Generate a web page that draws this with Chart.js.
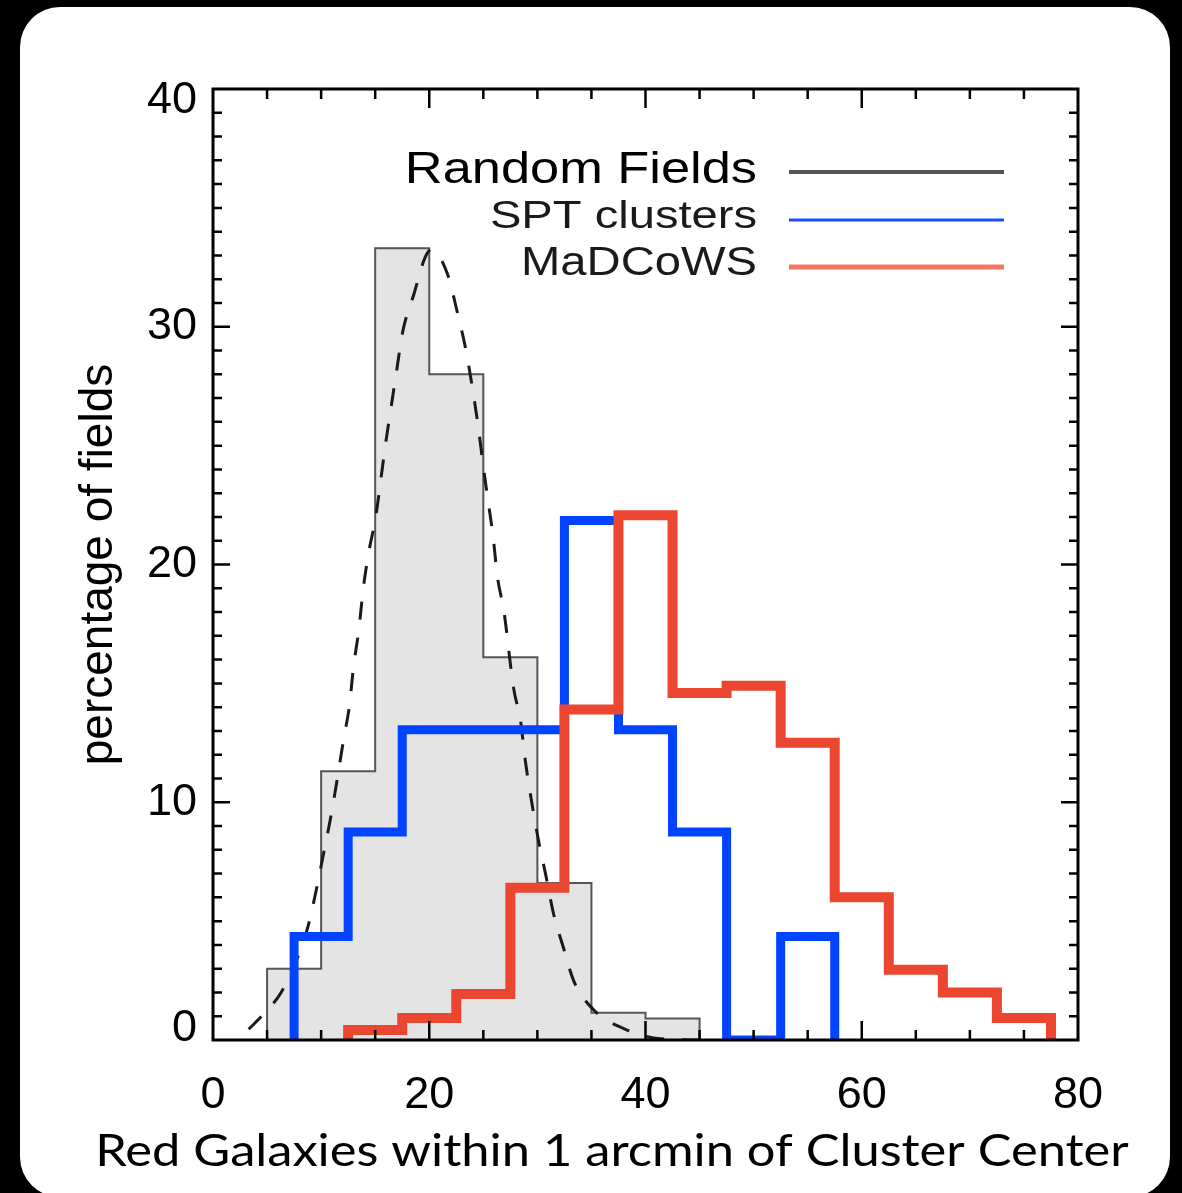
<!DOCTYPE html>
<html lang="en">
<head>
<meta charset="UTF-8">
<title>Red galaxies within 1 arcmin</title>
<script src="https://cdn.jsdelivr.net/npm/chart.js@4.4.1/dist/chart.umd.min.js"></script>
<style>
  html, body { margin: 0; padding: 0; background: #000; }
  body { width: 1182px; height: 1193px; position: relative; overflow: hidden; }
  .panel { position: absolute; left: 20px; top: 7px; width: 1150px; height: 1190px; background: #fff; border-radius: 40px; }
  #histChart { position: absolute; left: 0; top: 0; }
</style>
</head>
<body>
<div class="panel"></div>
<canvas id="histChart" width="1182" height="1193"></canvas>
<script>
// histogram bins are 5 galaxies wide; each list holds the left edge of a bin
const binWidth = 5;

const randomBinStarts = [5, 10, 15, 20, 25, 30, 35, 40];
const randomValues    = [3.0, 11.3, 33.3, 28.0, 16.1, 6.6, 1.15, 0.9];

const sptBinStarts = [7.5, 12.5, 17.5, 22.5, 27.5, 32.5, 37.5, 42.5, 47.5, 52.5];
const sptValues    = [4.35, 8.75, 13.05, 13.05, 13.05, 21.85, 13.05, 8.75, 0, 4.35];

const madcowsBinStarts = [12.5, 17.5, 22.5, 27.5, 32.5, 37.5, 42.5, 47.5, 52.5, 57.5, 62.5, 67.5, 72.5];
const madcowsValues    = [0.42, 0.93, 1.94, 6.4, 13.9, 22.07, 14.6, 14.9, 12.5, 6.0, 2.95, 2.0, 0.93];

// dashed fit through the random-field counts
const fitX = [3.3, 4.7, 6.3, 7.85, 8.8, 9.5, 10.25, 10.9, 11.5, 12.1, 12.6, 13.0, 13.5, 13.9,
              14.4, 15.05, 15.5, 16.0, 16.5, 17.0, 17.55, 18.6, 19.6, 20.2, 21.7, 22.6, 23.4,
              24.0, 24.5, 24.95, 25.4, 25.9, 26.3, 26.9, 27.8, 28.45, 28.9, 29.55, 30.1, 30.75,
              31.5, 32.4, 33.35, 35.2, 38.3, 41.4, 45.0];
const fitY = [0.45, 1.1, 2.0, 3.5, 4.8, 6.2, 7.9, 9.4, 11.0, 12.7, 14.0, 15.7, 17.3, 19.0,
              20.5, 22.0, 23.5, 25.2, 26.7, 28.2, 29.8, 31.4, 32.9, 33.25, 32.2, 30.6, 29.0,
              27.4, 25.9, 24.3, 22.8, 21.2, 19.5, 18.05, 14.8, 13.4, 11.7, 9.8, 8.4, 7.0,
              5.3, 3.9, 2.5, 1.27, 0.42, 0.05, 0.0];

const xTicks = [0, 20, 40, 60, 80];
const yTicks = [0, 10, 20, 30, 40];

const seriesNames = ['Random Fields', 'SPT clusters', 'MaDCoWS'];
const xTitle = 'Red Galaxies within 1 arcmin of Cluster Center';
const yTitle = 'percentage of fields';

// outline of a histogram as step points (stepped: 'before')
function histPoints(starts, values) {
  const pts = [{ x: starts[0], y: 0 }];
  starts.forEach((s, i) => pts.push({ x: s, y: values[i] }));
  pts.push({ x: starts[starts.length - 1] + binWidth, y: 0 });
  return pts;
}

function wideText(ctx, text, anchorX, baseline, font, stretch, align) {
  ctx.save();
  ctx.font = font;
  ctx.textAlign = align || 'right';
  ctx.textBaseline = 'alphabetic';
  ctx.translate(anchorX, baseline);
  ctx.scale(stretch, 1);
  ctx.fillText(text, 0, 0);
  ctx.restore();
}

// box frame with inward ticks, y labels, x title and legend
const decorations = {
  id: 'decorations',
  afterDatasetsDraw(chart) {
    const { ctx, chartArea: a, scales: { x, y } } = chart;
    ctx.save();
    ctx.strokeStyle = '#000';
    ctx.lineWidth = 3;
    ctx.strokeRect(a.left, a.top, a.right - a.left, a.bottom - a.top);

    ctx.lineWidth = 2.5;
    ctx.beginPath();
    for (let v = x.min + 5; v < x.max; v += 5) {
      const px = x.getPixelForValue(v);
      const len = v % 20 === 0 ? 19 : 10;
      ctx.moveTo(px, a.bottom); ctx.lineTo(px, a.bottom - len);
      ctx.moveTo(px, a.top); ctx.lineTo(px, a.top + len);
    }
    for (let v = y.min + 1; v < y.max; v += 1) {
      const py = y.getPixelForValue(v);
      const len = v % 10 === 0 ? 17 : 9;
      ctx.moveTo(a.left, py); ctx.lineTo(a.left + len, py);
      ctx.moveTo(a.right, py); ctx.lineTo(a.right - len, py);
    }
    ctx.stroke();

    // y tick labels, end labels pulled inside the frame
    ctx.fillStyle = '#000';
    ctx.font = '45px "Liberation Sans", Arial, sans-serif';
    ctx.textAlign = 'right';
    ctx.textBaseline = 'middle';
    yTicks.forEach(v => {
      let py = y.getPixelForValue(v);
      if (v === y.max) py += 12;
      if (v === y.min) py -= 11;
      ctx.fillText(String(v), a.left - 16, py);
    });

    // x axis title
    wideText(ctx, xTitle, 612, 1166, '44px Lato, "Open Sans", sans-serif', 1.15, 'center');

    // legend: text right-aligned, sample line to its right
    const legend = [
      { name: seriesNames[0], base: 183, lineY: 172, color: '#555', width: 4, font: '44px "Liberation Sans", Arial', stretch: 1.19 },
      { name: seriesNames[1], base: 228, lineY: 220, color: '#1d4dff', width: 3, font: '38px "Liberation Sans", Arial', stretch: 1.24 },
      { name: seriesNames[2], base: 275, lineY: 267, color: '#f07862', width: 5, font: '40px "Liberation Sans", Arial', stretch: 1.18 }
    ];
    legend.forEach(item => {
      ctx.fillStyle = item.name === seriesNames[0] ? '#000' : '#1a1a1a';
      wideText(ctx, item.name, 757, item.base, item.font, item.stretch);
      ctx.strokeStyle = item.color;
      ctx.lineWidth = item.width;
      ctx.beginPath();
      ctx.moveTo(789, item.lineY);
      ctx.lineTo(1004, item.lineY);
      ctx.stroke();
    });
    ctx.restore();
  }
};

const ctx = document.getElementById('histChart').getContext('2d');
new Chart(ctx, {
  type: 'line',
  data: {
    datasets: [
      {
        label: seriesNames[0],
        data: histPoints(randomBinStarts, randomValues),
        stepped: true,
        borderColor: '#555',
        borderWidth: 2,
        backgroundColor: '#e4e4e4',
        fill: 'origin',
        pointRadius: 0,
        order: 4
      },
      {
        label: 'fit',
        data: fitX.map((v, i) => ({ x: v, y: fitY[i] })),
        borderColor: '#1a1a1a',
        borderWidth: 3,
        borderDash: [18, 18],
        cubicInterpolationMode: 'monotone',
        fill: false,
        pointRadius: 0,
        order: 3
      },
      {
        label: seriesNames[1],
        data: histPoints(sptBinStarts, sptValues),
        stepped: true,
        borderColor: '#0044ff',
        borderWidth: 9,
        borderJoinStyle: 'miter',
        fill: false,
        pointRadius: 0,
        order: 2
      },
      {
        label: seriesNames[2],
        data: histPoints(madcowsBinStarts, madcowsValues),
        stepped: true,
        borderColor: '#ea4630',
        borderWidth: 10,
        borderJoinStyle: 'miter',
        fill: false,
        pointRadius: 0,
        order: 1
      }
    ]
  },
  options: {
    responsive: false,
    animation: false,
    devicePixelRatio: 1,
    layout: { padding: { top: 89, right: 104, left: 0, bottom: 0 } },
    plugins: {
      legend: { display: false },
      tooltip: { enabled: false }
    },
    scales: {
      x: {
        type: 'linear',
        position: 'bottom',
        min: 0,
        max: 80,
        afterFit(scale) { scale.height = 153; },
        afterBuildTicks(scale) { scale.ticks = xTicks.map(v => ({ value: v })); },
        grid: { display: false },
        border: { display: false },
        ticks: {
          color: '#000',
          padding: 21,
          maxRotation: 0,
          font: { family: '"Liberation Sans", Arial, sans-serif', size: 45 }
        }
      },
      y: {
        type: 'linear',
        position: 'left',
        min: 0,
        max: 40,
        afterFit(scale) { scale.width = 213; },
        grid: { display: false },
        border: { display: false },
        ticks: { display: false },
        title: {
          display: true,
          text: yTitle,
          color: '#000',
          padding: { top: 72, bottom: 0 },
          font: { family: '"Liberation Sans", Arial, sans-serif', size: 46 }
        }
      }
    }
  },
  plugins: [decorations]
});
</script>
</body>
</html>
